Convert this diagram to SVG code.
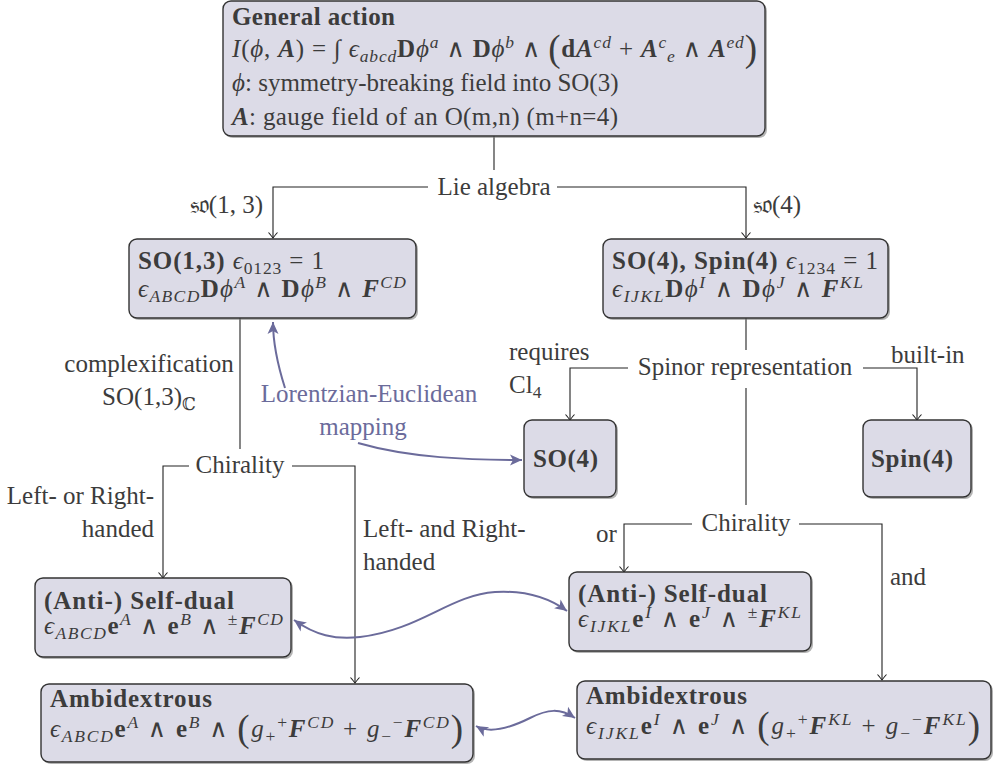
<svg xmlns="http://www.w3.org/2000/svg" width="995" height="765" viewBox="0 0 995 765" font-family="'Liberation Serif', 'Times New Roman', 'DejaVu Serif', serif">
<style>
.box{fill:#dcdbe7;stroke:#333;stroke-width:1.4}
.sh{fill:#777;opacity:.55}
text{font-family:'Liberation Serif','Times New Roman','DejaVu Serif',serif;font-size:25px;fill:#3c3c3c}
.b{font-weight:bold}
.i{font-style:italic}
.bi{font-weight:bold;font-style:italic}
.s{font-size:17.5px}
.big{font-size:37px}
.pl{fill:#6b6b9b}
.c{fill:none;stroke:#222;stroke-width:1.1}
.p{fill:none;stroke:#6b6b9b;stroke-width:2}
</style>
<defs>
<marker id="to" viewBox="-7 -6 8 12" refX="0" refY="0" markerWidth="8" markerHeight="12" orient="auto" markerUnits="userSpaceOnUse">
<path d="M-5.5,-4.5 Q-1.5,-1 0,0 Q-1.5,1 -5.5,4.5" fill="none" stroke="#222" stroke-width="1.1"/>
</marker>
<marker id="pa" viewBox="-13 -7 14 14" refX="0" refY="0" markerWidth="14" markerHeight="14" orient="auto-start-reverse" markerUnits="userSpaceOnUse">
<path d="M-12,-5.5 L0,0 L-12,5.5 L-9,0 Z" fill="#6b6b9b"/>
</marker>
</defs>

<g id="connectors">
<path class="c" d="M494,136 V170"/>
<path class="c" d="M428,187 H273 V238" marker-end="url(#to)"/>
<path class="c" d="M557,187 H746 V238" marker-end="url(#to)"/>
<path class="c" d="M240,318 V449"/>
<path class="c" d="M189,466 H163 V578" marker-end="url(#to)"/>
<path class="c" d="M292,466 H355 V683" marker-end="url(#to)"/>
<path class="c" d="M746,318 V350"/>
<path class="c" d="M628,368 H570 V420" marker-end="url(#to)"/>
<path class="c" d="M863,368 H917 V420" marker-end="url(#to)"/>
<path class="c" d="M746,388 V505"/>
<path class="c" d="M692,524 H624 V572" marker-end="url(#to)"/>
<path class="c" d="M799,524 H882 V680" marker-end="url(#to)"/>
<path class="p" d="M285,388 C278,366 273,346 273,322" marker-end="url(#pa)"/>
<path class="p" d="M358,443 C410,458 470,460 522,460" marker-end="url(#pa)"/>
<path class="p" d="M294,620 C315,635 335,640 360,637 C420,630 450,595 495,592 C530,590 552,600 567,611" marker-start="url(#pa)" marker-end="url(#pa)"/>
<path class="p" d="M476,726 C490,734 510,728 530,718 C548,709 560,708 575,718" marker-start="url(#pa)" marker-end="url(#pa)"/>
</g>

<g id="labels">
<text x="494" y="195" text-anchor="middle">Lie algebra</text>
<text x="263" y="213" text-anchor="end">𝔰𝔬(1, 3)</text>
<text x="753" y="213">𝔰𝔬(4)</text>
<text x="149" y="372" text-anchor="middle">complexification</text>
<text x="149" y="405" text-anchor="middle">SO(1,3)<tspan class="s" dy="5">ℂ</tspan></text>
<text x="369" y="402" text-anchor="middle" class="pl">Lorentzian-Euclidean</text>
<text x="363" y="435" text-anchor="middle" class="pl">mapping</text>
<text x="745" y="375" text-anchor="middle">Spinor representation</text>
<text x="509" y="360">requires</text>
<text x="509" y="393">Cl<tspan class="s" dy="5">4</tspan></text>
<text x="891" y="363">built-in</text>
<text x="240" y="473" text-anchor="middle">Chirality</text>
<text x="154" y="504" text-anchor="end">Left- or Right-</text>
<text x="154" y="537" text-anchor="end">handed</text>
<text x="363" y="537">Left- and Right-</text>
<text x="363" y="570">handed</text>
<text x="746" y="531" text-anchor="middle">Chirality</text>
<text x="596" y="542">or</text>
<text x="890" y="585">and</text>
</g>

<g id="general">
<rect class="sh" x="225" y="3" width="542" height="135" rx="8"/>
<rect class="box" x="223" y="1" width="542" height="135" rx="8"/>
<text x="232" y="25" class="b" textLength="163" lengthAdjust="spacing">General action</text>
<text x="232" y="57" textLength="525" lengthAdjust="spacing"><tspan class="i">I</tspan>(<tspan class="i">ϕ</tspan>, <tspan class="bi">A</tspan>) = ∫ <tspan class="i">ϵ</tspan><tspan class="i s" dy="5">abcd</tspan><tspan class="b" dy="-5">D</tspan><tspan class="i">ϕ</tspan><tspan class="i s" dy="-9">a</tspan><tspan dy="9"> ∧ </tspan><tspan class="b">D</tspan><tspan class="i">ϕ</tspan><tspan class="i s" dy="-9">b</tspan><tspan dy="9"> ∧ </tspan><tspan class="big" dy="4">(</tspan><tspan class="b" dy="-4">d</tspan><tspan class="bi">A</tspan><tspan class="i s" dy="-9">cd</tspan><tspan dy="9"> + </tspan><tspan class="bi">A</tspan><tspan class="i s" dy="-9">c</tspan><tspan class="i s" dy="14">e</tspan><tspan dy="-5"> ∧ </tspan><tspan class="bi">A</tspan><tspan class="i s" dy="-9">ed</tspan><tspan class="big" dy="13">)</tspan></text>
<text x="232" y="91"><tspan class="i">ϕ</tspan>: symmetry-breaking field into SO(3)</text>
<text x="232" y="125" textLength="386" lengthAdjust="spacing"><tspan class="bi">A</tspan>: gauge field of an O(m,n) (m+n=4)</text>
</g>

<g id="so13">
<rect class="sh" x="131" y="241" width="287" height="79" rx="8"/>
<rect class="box" x="129" y="239" width="287" height="79" rx="8"/>
<text x="138" y="269" textLength="186" lengthAdjust="spacing"><tspan class="b">SO(1,3)</tspan> <tspan class="i">ϵ</tspan><tspan class="s" dy="5">0123</tspan><tspan dy="-5"> = 1</tspan></text>
<text x="138" y="297" textLength="268" lengthAdjust="spacing"><tspan class="i">ϵ</tspan><tspan class="i s" dy="5">ABCD</tspan><tspan class="b" dy="-5">D</tspan><tspan class="i">ϕ</tspan><tspan class="i s" dy="-9">A</tspan><tspan dy="9"> ∧ </tspan><tspan class="b">D</tspan><tspan class="i">ϕ</tspan><tspan class="i s" dy="-9">B</tspan><tspan dy="9"> ∧ </tspan><tspan class="bi">F</tspan><tspan class="i s" dy="-9">CD</tspan></text>
</g>

<g id="so4spin4">
<rect class="sh" x="605" y="241" width="285" height="79" rx="8"/>
<rect class="box" x="603" y="239" width="285" height="79" rx="8"/>
<text x="612" y="269" textLength="266" lengthAdjust="spacing"><tspan class="b">SO(4), Spin(4)</tspan> <tspan class="i">ϵ</tspan><tspan class="s" dy="5">1234</tspan><tspan dy="-5"> = 1</tspan></text>
<text x="612" y="297" textLength="251" lengthAdjust="spacing"><tspan class="i">ϵ</tspan><tspan class="i s" dy="5">IJKL</tspan><tspan class="b" dy="-5">D</tspan><tspan class="i">ϕ</tspan><tspan class="i s" dy="-9">I</tspan><tspan dy="9"> ∧ </tspan><tspan class="b">D</tspan><tspan class="i">ϕ</tspan><tspan class="i s" dy="-9">J</tspan><tspan dy="9"> ∧ </tspan><tspan class="bi">F</tspan><tspan class="i s" dy="-9">KL</tspan></text>
</g>

<g id="so4">
<rect class="sh" x="526" y="422" width="92" height="77" rx="8"/>
<rect class="box" x="524" y="420" width="92" height="77" rx="8"/>
<text x="533" y="467" class="b" textLength="65" lengthAdjust="spacing">SO(4)</text>
</g>

<g id="spin4">
<rect class="sh" x="865" y="422" width="108" height="77" rx="8"/>
<rect class="box" x="863" y="420" width="108" height="77" rx="8"/>
<text x="871" y="467" class="b" textLength="82" lengthAdjust="spacing">Spin(4)</text>
</g>

<g id="selfdual-left">
<rect class="sh" x="37" y="580" width="256" height="79" rx="8"/>
<rect class="box" x="35" y="578" width="256" height="79" rx="8"/>
<text x="44" y="609" class="b" textLength="190" lengthAdjust="spacing">(Anti-) Self-dual</text>
<text x="44" y="634" textLength="239" lengthAdjust="spacing"><tspan class="i">ϵ</tspan><tspan class="i s" dy="5">ABCD</tspan><tspan class="b" dy="-5">e</tspan><tspan class="i s" dy="-9">A</tspan><tspan dy="9"> ∧ </tspan><tspan class="b">e</tspan><tspan class="i s" dy="-9">B</tspan><tspan dy="9"> ∧ </tspan><tspan class="s" dy="-9">±</tspan><tspan class="bi" dy="9">F</tspan><tspan class="i s" dy="-9">CD</tspan></text>
</g>

<g id="ambi-left">
<rect class="sh" x="43" y="686" width="432" height="78" rx="8"/>
<rect class="box" x="41" y="684" width="432" height="78" rx="8"/>
<text x="50" y="707" class="b" textLength="162" lengthAdjust="spacing">Ambidextrous</text>
<text x="50" y="737" textLength="413" lengthAdjust="spacing"><tspan class="i">ϵ</tspan><tspan class="i s" dy="5">ABCD</tspan><tspan class="b" dy="-5">e</tspan><tspan class="i s" dy="-9">A</tspan><tspan dy="9"> ∧ </tspan><tspan class="b">e</tspan><tspan class="i s" dy="-9">B</tspan><tspan dy="9"> ∧ </tspan><tspan class="big" dy="4">(</tspan><tspan class="i" dy="-4">g</tspan><tspan class="s" dy="5">+</tspan><tspan class="s" dy="-14">+</tspan><tspan class="bi" dy="9">F</tspan><tspan class="i s" dy="-9">CD</tspan><tspan dy="9"> + </tspan><tspan class="i">g</tspan><tspan class="s" dy="5">−</tspan><tspan class="s" dy="-14">−</tspan><tspan class="bi" dy="9">F</tspan><tspan class="i s" dy="-9">CD</tspan><tspan class="big" dy="13">)</tspan></text>
</g>

<g id="selfdual-right">
<rect class="sh" x="571" y="574" width="242" height="79" rx="8"/>
<rect class="box" x="569" y="572" width="242" height="79" rx="8"/>
<text x="578" y="602" class="b" textLength="189" lengthAdjust="spacing">(Anti-) Self-dual</text>
<text x="578" y="627" textLength="223" lengthAdjust="spacing"><tspan class="i">ϵ</tspan><tspan class="i s" dy="5">IJKL</tspan><tspan class="b" dy="-5">e</tspan><tspan class="i s" dy="-9">I</tspan><tspan dy="9"> ∧ </tspan><tspan class="b">e</tspan><tspan class="i s" dy="-9">J</tspan><tspan dy="9"> ∧ </tspan><tspan class="s" dy="-9">±</tspan><tspan class="bi" dy="9">F</tspan><tspan class="i s" dy="-9">KL</tspan></text>
</g>

<g id="ambi-right">
<rect class="sh" x="579" y="683" width="414" height="78" rx="8"/>
<rect class="box" x="577" y="681" width="414" height="78" rx="8"/>
<text x="586" y="704" class="b" textLength="161" lengthAdjust="spacing">Ambidextrous</text>
<text x="586" y="734" textLength="394" lengthAdjust="spacing"><tspan class="i">ϵ</tspan><tspan class="i s" dy="5">IJKL</tspan><tspan class="b" dy="-5">e</tspan><tspan class="i s" dy="-9">I</tspan><tspan dy="9"> ∧ </tspan><tspan class="b">e</tspan><tspan class="i s" dy="-9">J</tspan><tspan dy="9"> ∧ </tspan><tspan class="big" dy="4">(</tspan><tspan class="i" dy="-4">g</tspan><tspan class="s" dy="5">+</tspan><tspan class="s" dy="-14">+</tspan><tspan class="bi" dy="9">F</tspan><tspan class="i s" dy="-9">KL</tspan><tspan dy="9"> + </tspan><tspan class="i">g</tspan><tspan class="s" dy="5">−</tspan><tspan class="s" dy="-14">−</tspan><tspan class="bi" dy="9">F</tspan><tspan class="i s" dy="-9">KL</tspan><tspan class="big" dy="13">)</tspan></text>
</g>
</svg>
